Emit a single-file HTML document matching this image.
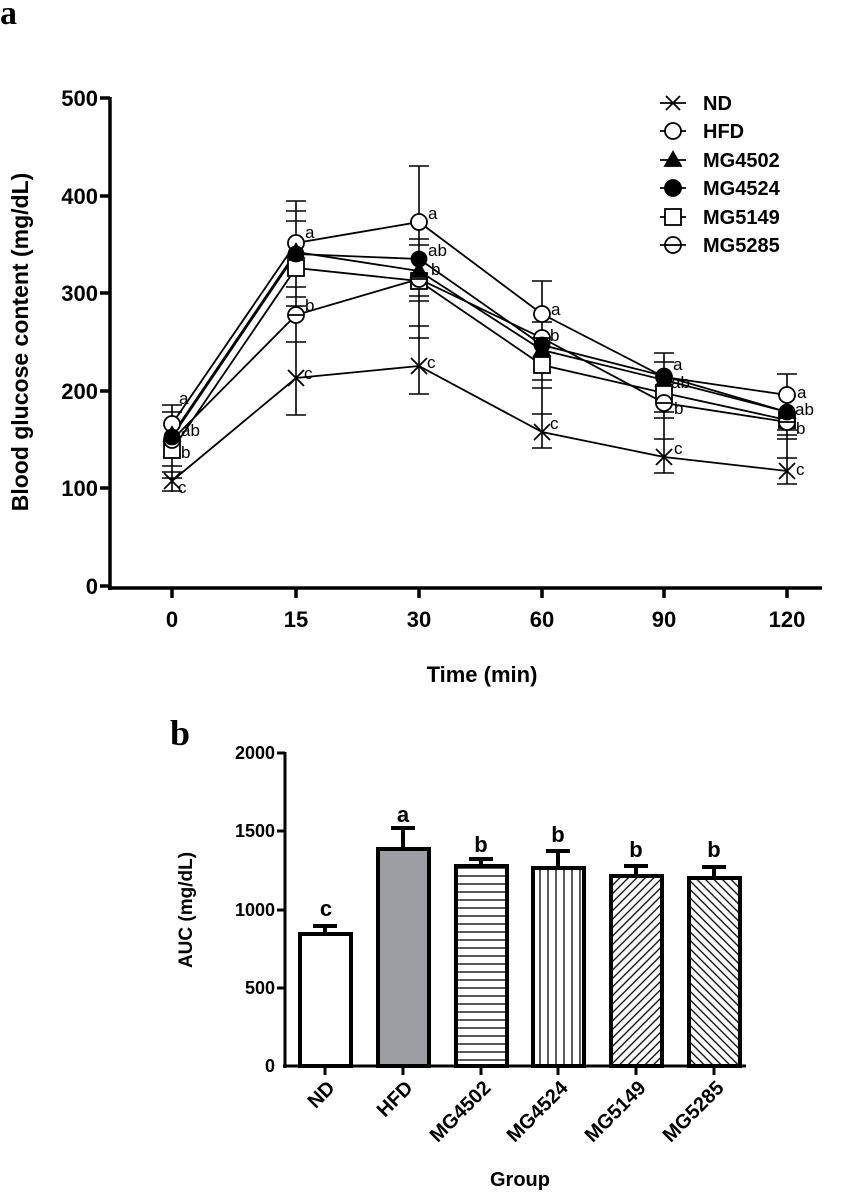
<!DOCTYPE html>
<html><head><meta charset="utf-8"><style>
body{margin:0;background:#fff}
svg{display:block;font-family:"Liberation Sans",Arial,sans-serif}
</style></head><body>
<svg width="852" height="1193" viewBox="0 0 852 1193">
<defs>
<pattern id="ph" width="8" height="8" patternUnits="userSpaceOnUse"><rect width="8" height="8" fill="#fff"/><line x1="0" y1="4" x2="8" y2="4" stroke="#000" stroke-width="1.3"/></pattern>
<pattern id="pv" width="8" height="8" patternUnits="userSpaceOnUse"><rect width="8" height="8" fill="#fff"/><line x1="4" y1="0" x2="4" y2="8" stroke="#000" stroke-width="1.3"/></pattern>
<pattern id="pd1" width="6" height="6" patternUnits="userSpaceOnUse" patternTransform="rotate(45)"><rect width="6" height="6" fill="#fff"/><line x1="3" y1="0" x2="3" y2="6" stroke="#000" stroke-width="1.3"/></pattern>
<pattern id="pd2" width="6" height="6" patternUnits="userSpaceOnUse" patternTransform="rotate(-45)"><rect width="6" height="6" fill="#fff"/><line x1="3" y1="0" x2="3" y2="6" stroke="#000" stroke-width="1.3"/></pattern>
</defs>

<!-- Panel a -->
<text x="0" y="24" font-family="Liberation Serif,serif" font-weight="bold" font-size="34">a</text>
<g stroke="#000" stroke-width="3.5" fill="none">
<line x1="110" y1="97" x2="110" y2="590"/>
<line x1="108" y1="588" x2="822" y2="588"/>
<line x1="100" y1="98" x2="110" y2="98"/><line x1="100" y1="196" x2="110" y2="196"/><line x1="100" y1="293" x2="110" y2="293"/><line x1="100" y1="391" x2="110" y2="391"/><line x1="100" y1="488" x2="110" y2="488"/><line x1="100" y1="586" x2="110" y2="586"/>
<line x1="172" y1="588" x2="172" y2="598"/><line x1="296" y1="588" x2="296" y2="598"/><line x1="419" y1="588" x2="419" y2="598"/><line x1="542" y1="588" x2="542" y2="598"/><line x1="664" y1="588" x2="664" y2="598"/><line x1="787" y1="588" x2="787" y2="598"/>
</g>
<g font-weight="bold" font-size="22" text-anchor="end">
<text x="98" y="106">500</text><text x="98" y="204">400</text><text x="98" y="301">300</text><text x="98" y="399">200</text><text x="98" y="496">100</text><text x="98" y="594">0</text>
</g>
<g font-weight="bold" font-size="22" text-anchor="middle">
<text x="172" y="627">0</text><text x="296" y="627">15</text><text x="419" y="627">30</text><text x="542" y="627">60</text><text x="664" y="627">90</text><text x="787" y="627">120</text>
<text x="482" y="682">Time (min)</text>
<text transform="translate(28,342) rotate(-90)" font-size="23">Blood glucose content (mg/dL)</text>
</g>

<!-- error bars -->
<g stroke="#000" stroke-width="1.6" fill="none">
<line x1="172" y1="405" x2="172" y2="492"/>
<line x1="162" y1="405" x2="182" y2="405"/><line x1="162" y1="412" x2="182" y2="412"/><line x1="162" y1="466" x2="182" y2="466"/><line x1="162" y1="472" x2="182" y2="472"/><line x1="162" y1="478" x2="182" y2="478"/><line x1="162" y1="491" x2="182" y2="491"/>
<line x1="296" y1="201" x2="296" y2="415"/>
<line x1="286" y1="201" x2="306" y2="201"/><line x1="286" y1="211" x2="306" y2="211"/><line x1="286" y1="221" x2="306" y2="221"/><line x1="286" y1="287" x2="306" y2="287"/><line x1="286" y1="297" x2="306" y2="297"/><line x1="286" y1="306" x2="306" y2="306"/><line x1="286" y1="342" x2="306" y2="342"/><line x1="286" y1="415" x2="306" y2="415"/>
<line x1="419" y1="166" x2="419" y2="394"/>
<line x1="409" y1="166" x2="429" y2="166"/><line x1="409" y1="239" x2="429" y2="239"/><line x1="409" y1="245" x2="429" y2="245"/><line x1="409" y1="296" x2="429" y2="296"/><line x1="409" y1="301" x2="429" y2="301"/><line x1="409" y1="326" x2="429" y2="326"/><line x1="409" y1="338" x2="429" y2="338"/><line x1="409" y1="394" x2="429" y2="394"/>
<line x1="542" y1="281" x2="542" y2="448"/>
<line x1="532" y1="281" x2="552" y2="281"/><line x1="532" y1="322" x2="552" y2="322"/><line x1="532" y1="380" x2="552" y2="380"/><line x1="532" y1="388" x2="552" y2="388"/><line x1="532" y1="414" x2="552" y2="414"/><line x1="532" y1="448" x2="552" y2="448"/>
<line x1="664" y1="353" x2="664" y2="473"/>
<line x1="654" y1="353" x2="674" y2="353"/><line x1="654" y1="362" x2="674" y2="362"/><line x1="654" y1="412" x2="674" y2="412"/><line x1="654" y1="418" x2="674" y2="418"/><line x1="654" y1="439" x2="674" y2="439"/><line x1="654" y1="473" x2="674" y2="473"/>
<line x1="787" y1="374" x2="787" y2="484"/>
<line x1="777" y1="374" x2="797" y2="374"/><line x1="777" y1="430" x2="797" y2="430"/><line x1="777" y1="435" x2="797" y2="435"/><line x1="777" y1="439" x2="797" y2="439"/><line x1="777" y1="458" x2="797" y2="458"/><line x1="777" y1="484" x2="797" y2="484"/>
</g>

<!-- lines -->
<g stroke="#000" stroke-width="1.8" fill="none">
<polyline points="172,481 296,378 419,366 542,432 664,457 787,471"/>
<polyline points="172,424 296,243 419,222 542,314 664,377 787,395"/>
<polyline points="172,435 296,252 419,271 542,350 664,380 787,412"/>
<polyline points="172,437 296,254 419,259 542,345 664,376 787,412"/>
<polyline points="172,450 296,268 419,281 542,365 664,393 787,420"/>
<polyline points="172,440 296,315 419,279 542,338 664,403 787,422"/>
</g>
<!-- markers -->
<g stroke="#000" stroke-width="1.8">
<path fill="none" d="M164,473l16,16M180,473l-16,16M288,370l16,16M304,370l-16,16M411,358l16,16M427,358l-16,16M534,424l16,16M550,424l-16,16M656,449l16,16M672,449l-16,16M779,463l16,16M795,463l-16,16"/>
<g fill="#fff">
<circle cx="172" cy="424" r="8"/><circle cx="296" cy="243" r="8"/><circle cx="419" cy="222" r="8"/><circle cx="542" cy="314" r="8"/><circle cx="664" cy="377" r="8"/><circle cx="787" cy="395" r="8"/>
<rect x="164" y="442" width="16" height="16"/><rect x="288" y="260" width="16" height="16"/><rect x="411" y="273" width="16" height="16"/><rect x="534" y="357" width="16" height="16"/><rect x="656" y="385" width="16" height="16"/><rect x="779" y="412" width="16" height="16"/>
<circle cx="172" cy="440" r="8"/><circle cx="296" cy="315" r="8"/><circle cx="419" cy="279" r="8"/><circle cx="542" cy="338" r="8"/><circle cx="664" cy="403" r="8"/><circle cx="787" cy="422" r="8"/>
</g>
<path d="M164,440h16M288,315h16M411,279h16M534,338h16M656,403h16M779,422h16" fill="none"/>
<g fill="#000">
<circle cx="172" cy="437" r="7.5"/><circle cx="296" cy="254" r="7.5"/><circle cx="419" cy="259" r="7.5"/><circle cx="542" cy="345" r="7.5"/><circle cx="664" cy="376" r="7.5"/><circle cx="787" cy="412" r="7.5"/>
<path d="M172,427l8,14h-16zM296,244l8,14h-16zM419,263l8,14h-16zM542,342l8,14h-16zM664,372l8,14h-16zM787,404l8,14h-16z"/>
</g>
</g>
<!-- letters -->
<g font-size="17">
<text x="179" y="404">a</text><text x="181" y="436">ab</text><text x="181" y="458">b</text><text x="178" y="493">c</text>
<text x="305" y="238">a</text><text x="305" y="311">b</text><text x="304" y="379">c</text>
<text x="428" y="219">a</text><text x="428" y="256">ab</text><text x="431" y="275">b</text><text x="427" y="368">c</text>
<text x="551" y="315">a</text><text x="550" y="341">b</text><text x="550" y="429">c</text>
<text x="673" y="370">a</text><text x="671" y="388">ab</text><text x="674" y="414">b</text><text x="674" y="454">c</text>
<text x="797" y="398">a</text><text x="795" y="415">ab</text><text x="796" y="434">b</text><text x="796" y="475">c</text>
</g>
<!-- legend -->
<g stroke="#000" stroke-width="1.8">
<line x1="660" y1="103" x2="686" y2="103"/><path d="M666,96l14,14M680,96l-14,14" fill="none"/>
<line x1="660" y1="131" x2="686" y2="131"/><circle cx="673" cy="131" r="8" fill="#fff"/>
<line x1="660" y1="160" x2="686" y2="160"/><path d="M673,152l8,14h-16z" fill="#000"/>
<line x1="660" y1="188" x2="686" y2="188"/><circle cx="673" cy="188" r="8" fill="#000"/>
<line x1="660" y1="217" x2="686" y2="217"/><rect x="665" y="209" width="16" height="16" fill="#fff"/>
<line x1="660" y1="245" x2="686" y2="245"/><circle cx="673" cy="245" r="8" fill="#fff"/><line x1="665" y1="245" x2="681" y2="245"/>
</g>
<g font-weight="bold" font-size="20">
<text x="703" y="110">ND</text><text x="703" y="138">HFD</text><text x="703" y="167">MG4502</text><text x="703" y="195">MG4524</text><text x="703" y="224">MG5149</text><text x="703" y="252">MG5285</text>
</g>

<!-- Panel b -->
<text x="170" y="745" font-family="Liberation Serif,serif" font-weight="bold" font-size="36">b</text>
<g stroke="#000" stroke-width="3" fill="none">
<line x1="285" y1="752" x2="285" y2="1068"/>
<line x1="283" y1="1066" x2="746" y2="1066"/>
<line x1="277" y1="753" x2="285" y2="753"/><line x1="277" y1="831" x2="285" y2="831"/><line x1="277" y1="910" x2="285" y2="910"/><line x1="277" y1="988" x2="285" y2="988"/>
<line x1="325" y1="1066" x2="325" y2="1075"/><line x1="403" y1="1066" x2="403" y2="1075"/><line x1="481" y1="1066" x2="481" y2="1075"/><line x1="558" y1="1066" x2="558" y2="1075"/><line x1="636" y1="1066" x2="636" y2="1075"/><line x1="714" y1="1066" x2="714" y2="1075"/>
</g>
<g font-weight="bold" font-size="18" text-anchor="end">
<text x="275" y="759">2000</text><text x="275" y="837">1500</text><text x="275" y="916">1000</text><text x="275" y="994">500</text><text x="275" y="1072">0</text>
</g>
<text transform="translate(192,910) rotate(-90)" font-weight="bold" font-size="19" text-anchor="middle">AUC (mg/dL)</text>
<g stroke="#000" stroke-width="4">
<line x1="325" y1="934" x2="325" y2="926"/><line x1="313" y1="926" x2="337" y2="926"/>
<line x1="403" y1="849" x2="403" y2="828"/><line x1="391" y1="828" x2="415" y2="828"/>
<line x1="481" y1="866" x2="481" y2="859"/><line x1="469" y1="859" x2="493" y2="859"/>
<line x1="558" y1="868" x2="558" y2="851"/><line x1="546" y1="851" x2="570" y2="851"/>
<line x1="636" y1="876" x2="636" y2="866"/><line x1="624" y1="866" x2="648" y2="866"/>
<line x1="714" y1="878" x2="714" y2="867"/><line x1="702" y1="867" x2="726" y2="867"/>
<rect x="300" y="934" width="51" height="132" fill="#fff"/>
<rect x="378" y="849" width="51" height="217" fill="#9d9ea2"/>
<rect x="456" y="866" width="51" height="200" fill="url(#ph)"/>
<rect x="533" y="868" width="51" height="198" fill="url(#pv)"/>
<rect x="611" y="876" width="51" height="190" fill="url(#pd1)"/>
<rect x="689" y="878" width="51" height="188" fill="url(#pd2)"/>
</g>
<g font-weight="bold" font-size="22" text-anchor="middle">
<text x="326" y="916">c</text><text x="403" y="822">a</text><text x="481" y="852">b</text><text x="558" y="842">b</text><text x="636" y="857">b</text><text x="714" y="857">b</text>
</g>
<g font-weight="bold" font-size="20" text-anchor="end">
<text transform="translate(336,1089) rotate(-45)">ND</text>
<text transform="translate(414,1089) rotate(-45)">HFD</text>
<text transform="translate(492,1089) rotate(-45)">MG4502</text>
<text transform="translate(569,1089) rotate(-45)">MG4524</text>
<text transform="translate(647,1089) rotate(-45)">MG5149</text>
<text transform="translate(725,1089) rotate(-45)">MG5285</text>
</g>
<text x="520" y="1186" font-weight="bold" font-size="20" text-anchor="middle">Group</text>
</svg>
</body></html>
